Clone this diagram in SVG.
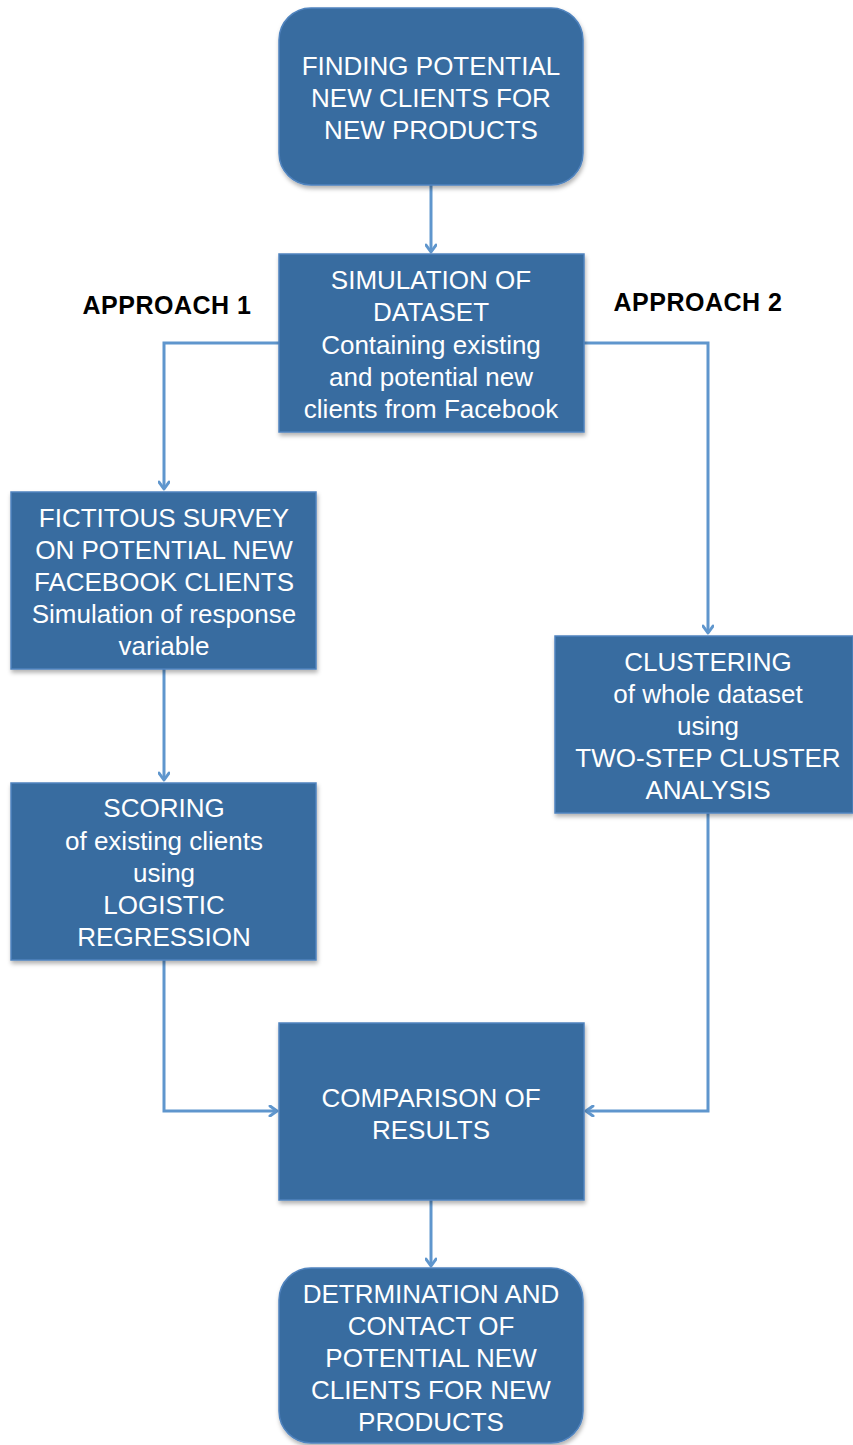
<svg xmlns="http://www.w3.org/2000/svg" width="853" height="1445" viewBox="0 0 853 1445">
<style>
.box{fill:#396CA0;stroke:#4F83BE;stroke-width:1.5;filter:url(#sh)}
.t{font-family:"Liberation Sans",Arial,sans-serif;font-size:26px;fill:#FFFFFF;text-anchor:middle}
.lbl{font-family:"Liberation Sans",Arial,sans-serif;font-size:25px;font-weight:bold;fill:#000000;text-anchor:middle;letter-spacing:0.5px}
.c{fill:none;stroke:#5F96CD;stroke-width:3;marker-end:url(#ah)}
</style>
<defs>
<filter id="sh" x="-10%" y="-10%" width="120%" height="120%">
<feDropShadow dx="1" dy="3" stdDeviation="2" flood-color="#000" flood-opacity="0.3"/>
</filter>
<marker id="ah" markerWidth="12" markerHeight="12" refX="9" refY="6" orient="auto" markerUnits="userSpaceOnUse">
<path d="M2,1 L9,6 L2,11" fill="none" stroke="#5F96CD" stroke-width="3" stroke-linecap="round" stroke-linejoin="round"/>
</marker>
</defs>
<rect width="853" height="1445" fill="#FFFFFF"/>
<g id="connectors">
<path class="c" d="M431,185 V252"/>
<path class="c" d="M279,343 H164 V489"/>
<path class="c" d="M584,343 H708 V633"/>
<path class="c" d="M164,669 V780"/>
<path class="c" d="M164,960 V1111 H277"/>
<path class="c" d="M708,813 V1111 H586"/>
<path class="c" d="M431,1200 V1266"/>
</g>
<g id="label-approach1"><text class="lbl" x="167" y="314">APPROACH 1</text></g>
<g id="label-approach2"><text class="lbl" x="698" y="311">APPROACH 2</text></g>
<g id="node-finding">
<rect class="box" x="279" y="8" width="304" height="177" rx="32"/>
<text class="t" x="431" y="75">FINDING POTENTIAL</text>
<text class="t" x="431" y="107">NEW CLIENTS FOR</text>
<text class="t" x="431" y="139">NEW PRODUCTS</text>
</g>
<g id="node-simulation">
<rect class="box" x="279" y="254" width="305" height="178"/>
<text class="t" x="431" y="289">SIMULATION OF</text>
<text class="t" x="431" y="321">DATASET</text>
<text class="t" x="431" y="354">Containing existing</text>
<text class="t" x="431" y="386">and potential new</text>
<text class="t" x="431" y="418">clients from Facebook</text>
</g>
<g id="node-survey">
<rect class="box" x="11" y="492" width="305" height="177"/>
<text class="t" x="164" y="527">FICTITOUS SURVEY</text>
<text class="t" x="164" y="559">ON POTENTIAL NEW</text>
<text class="t" x="164" y="591">FACEBOOK CLIENTS</text>
<text class="t" x="164" y="623">Simulation of response</text>
<text class="t" x="164" y="655">variable</text>
</g>
<g id="node-scoring">
<rect class="box" x="11" y="783" width="305" height="177"/>
<text class="t" x="164" y="817">SCORING</text>
<text class="t" x="164" y="850">of existing clients</text>
<text class="t" x="164" y="882">using</text>
<text class="t" x="164" y="914">LOGISTIC</text>
<text class="t" x="164" y="946">REGRESSION</text>
</g>
<g id="node-clustering">
<rect class="box" x="555" y="636" width="298" height="177"/>
<text class="t" x="708" y="671">CLUSTERING</text>
<text class="t" x="708" y="703">of whole dataset</text>
<text class="t" x="708" y="735">using</text>
<text class="t" x="708" y="767">TWO-STEP CLUSTER</text>
<text class="t" x="708" y="799">ANALYSIS</text>
</g>
<g id="node-comparison">
<rect class="box" x="279" y="1023" width="305" height="177"/>
<text class="t" x="431" y="1107">COMPARISON OF</text>
<text class="t" x="431" y="1139">RESULTS</text>
</g>
<g id="node-determination">
<rect class="box" x="279" y="1268" width="304" height="175" rx="32"/>
<text class="t" x="431" y="1303">DETRMINATION AND</text>
<text class="t" x="431" y="1335">CONTACT OF</text>
<text class="t" x="431" y="1367">POTENTIAL NEW</text>
<text class="t" x="431" y="1399">CLIENTS FOR NEW</text>
<text class="t" x="431" y="1431">PRODUCTS</text>
</g>
</svg>
